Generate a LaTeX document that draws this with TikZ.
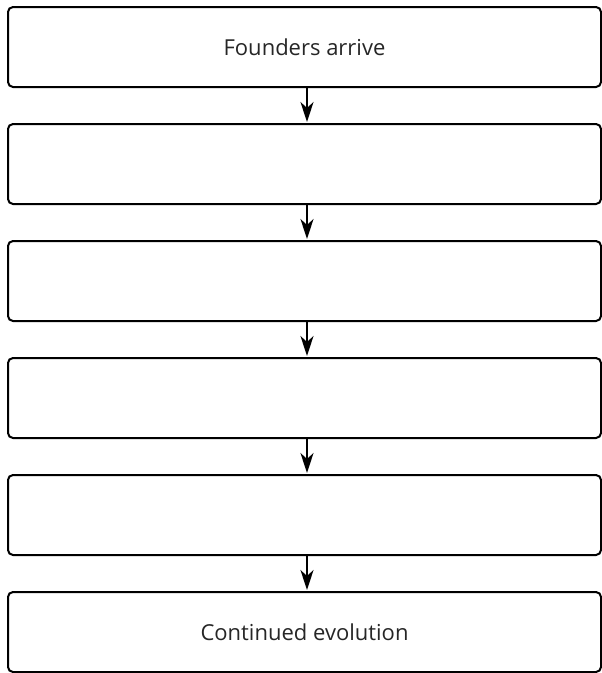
\documentclass[tikz,border=0pt]{standalone}
\usepackage{fontspec}
\setmainfont{Open Sans}
\usetikzlibrary{arrows.meta}
\begin{document}
\begin{tikzpicture}[x=1pt,y=-1pt,
  stagebox/.style={draw=black,line width=2pt,rounded corners=5pt,
    minimum width=593pt,minimum height=80pt,inner sep=0pt,
    font=\fontsize{22}{26}\selectfont,text=black!85},
  flowarrow/.style={draw=black,line width=2pt,
    -{Stealth[length=20pt,width=13pt,inset=6pt]}}]
\useasboundingbox (0,0) rectangle (602,673);
\node[stagebox] (b1) at (304.5,47) {Founders arrive};
\node[stagebox] (b2) at (304.5,164) {};
\node[stagebox] (b3) at (304.5,281) {};
\node[stagebox] (b4) at (304.5,398) {};
\node[stagebox] (b5) at (304.5,515) {};
\node[stagebox] (b6) at (304.5,632) {Continued evolution};
\foreach \a/\b in {b1/b2,b2/b3,b3/b4,b4/b5,b5/b6}
  \draw[flowarrow] ([xshift=2.5pt]\a.south) -- ([xshift=2.5pt,yshift=1pt]\b.north);
\end{tikzpicture}
\end{document}
